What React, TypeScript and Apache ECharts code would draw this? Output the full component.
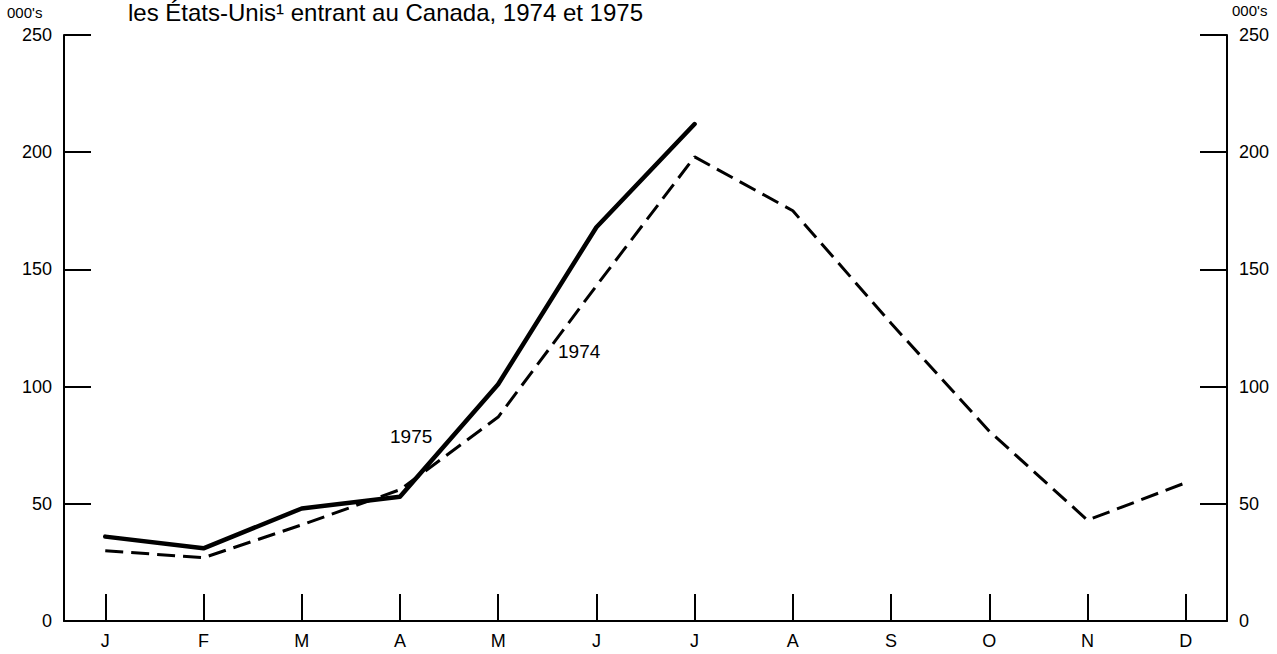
import React, { useEffect, useRef } from "react";
import * as echarts from "echarts";

const months = ["J", "F", "M", "A", "M", "J", "J", "A", "S", "O", "N", "D"];
const values1974 = [30, 27, 41, 56, 87, 143, 198, 175, 127, 81, 43, 59];
const values1975 = [36, 31, 48, 53, 101, 168, 212];
const yMin = 0;
const yMax = 250;
const yStep = 50;
const unitLabel = "000's";
const titleText = "les États-Unis¹ entrant au Canada, 1974 et 1975";
const label1974 = "1974";
const label1975 = "1975";

const FONT = "'Liberation Sans', Arial, Helvetica, sans-serif";

export default function App() {
  const ref = useRef<HTMLDivElement>(null);
  useEffect(() => {
    document.body.style.margin = "0";
    if (!ref.current) return;
    const chart = echarts.init(ref.current, null, { renderer: "svg" });
    const monthIdx = months.map((_, i) => i);
    const yAxisCommon = {
      type: "value",
      min: yMin,
      max: yMax,
      interval: yStep,
      splitLine: { show: false },
      axisLine: { show: true, onZero: false, lineStyle: { color: "#000", width: 2 } },
      axisTick: { show: true, inside: true, length: 27, lineStyle: { color: "#000", width: 2 } },
      axisLabel: { color: "#000", fontFamily: FONT, fontSize: 18, margin: 12 },
    };
    chart.setOption({
      animation: false,
      backgroundColor: "#fff",
      grid: { left: 64, right: 50, top: 35, bottom: 33, containLabel: false },
      xAxis: {
        type: "value",
        min: -0.42,
        max: months.length - 1 + 0.42,
        splitLine: { show: false },
        axisLine: { show: true, onZero: false, lineStyle: { color: "#000", width: 2 } },
        axisTick: {
          show: true,
          inside: true,
          length: 27,
          customValues: monthIdx,
          lineStyle: { color: "#000", width: 2 },
        },
        axisLabel: {
          customValues: monthIdx,
          formatter: (v: number) => months[Math.round(v)] ?? "",
          color: "#000",
          fontFamily: FONT,
          fontSize: 18,
          margin: 11,
        },
      },
      yAxis: [
        { ...yAxisCommon, position: "left" },
        { ...yAxisCommon, position: "right" },
      ],
      series: [
        {
          name: label1974,
          type: "line",
          data: values1974.map((v, i) => [i, v]),
          showSymbol: false,
          symbol: "none",
          lineStyle: { color: "#000", width: 3, type: [18, 8] },
        },
        {
          name: label1975,
          type: "line",
          data: values1975.map((v, i) => [i, v]),
          showSymbol: false,
          symbol: "none",
          lineStyle: { color: "#000", width: 4.5, cap: "round", join: "round" },
        },
      ],
      graphic: [
        {
          type: "text",
          left: 128,
          top: 0,
          style: { text: titleText, font: `24px ${FONT}`, fill: "#000" },
        },
        {
          type: "text",
          left: 7,
          top: 5,
          style: { text: unitLabel, font: `15px ${FONT}`, fill: "#000" },
        },
        {
          type: "text",
          left: 1232,
          top: 3,
          style: { text: unitLabel, font: `15px ${FONT}`, fill: "#000" },
        },
        {
          type: "text",
          left: 390,
          top: 427,
          style: { text: label1975, font: `19px ${FONT}`, fill: "#000" },
        },
        {
          type: "text",
          left: 558,
          top: 342,
          style: { text: label1974, font: `19px ${FONT}`, fill: "#000" },
        },
      ],
    });
    return () => chart.dispose();
  }, []);
  return <div ref={ref} style={{ width: 1277, height: 654 }} />;
}
